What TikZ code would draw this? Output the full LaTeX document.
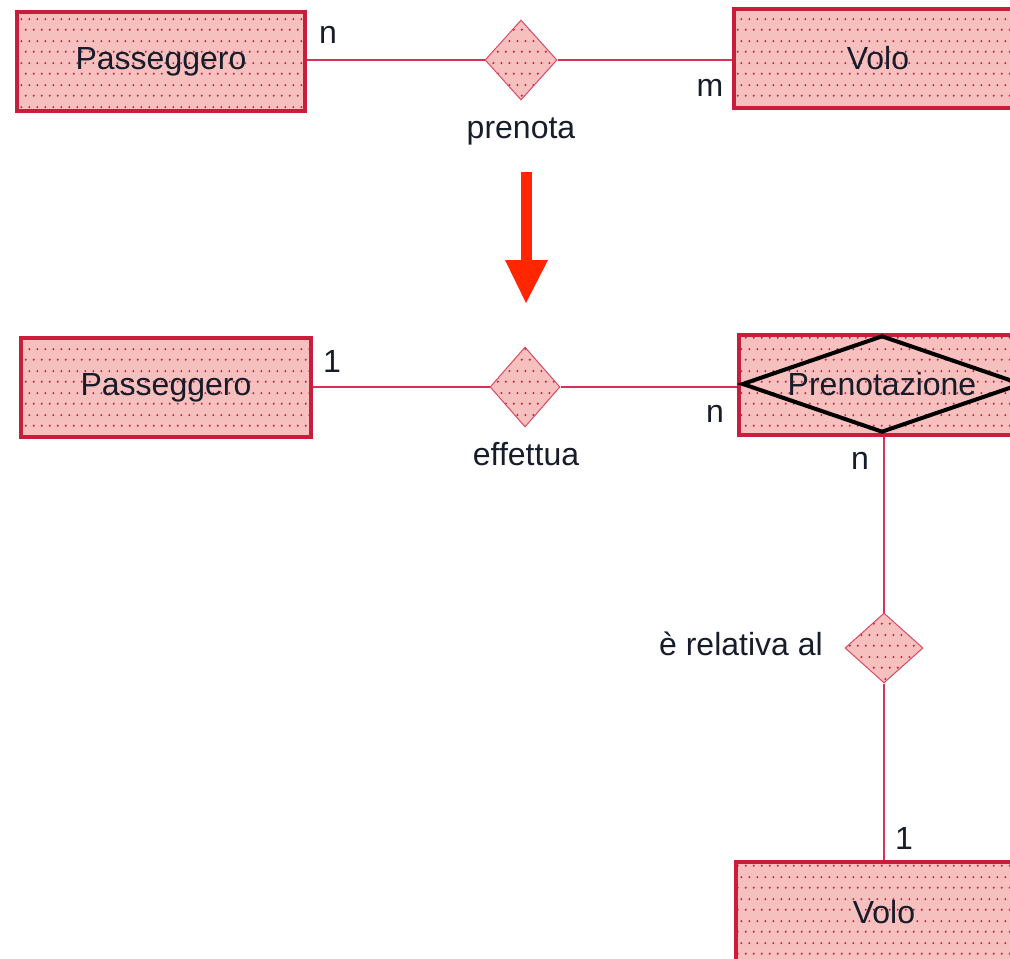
\documentclass[tikz,border=0pt]{standalone}
\usepackage{fontspec}
\setmainfont{Liberation Sans}
\usetikzlibrary{shapes.geometric,patterns.meta}
\definecolor{erpink}{RGB}{246,192,190}
\definecolor{erdot}{RGB}{210,36,68}
\definecolor{erborder}{RGB}{200,30,60}
\definecolor{erline}{RGB}{212,52,82}
\definecolor{erdia}{RGB}{218,74,98}
\definecolor{ertext}{RGB}{24,28,42}
\definecolor{arrowred}{RGB}{255,38,0}
\tikzdeclarepattern{
  name=erdots,
  type=uncolored,
  bounding box={(0pt,0pt) and (8pt,22pt)},
  tile size={(8pt,22pt)},
  code={
    \fill (2pt,5.5pt) circle (1.25pt);
    \fill (6pt,16.5pt) circle (1.25pt);
  }
}
\begin{document}
\begin{tikzpicture}[x=1pt,y=-1pt,
  font=\fontsize{32}{38}\selectfont,
  every node/.style={text=ertext},
  dotted fill/.style={preaction={fill=erpink}, pattern=erdots, pattern color=erdot},
  entity/.style={draw=erborder, line width=4pt, rectangle, dotted fill, inner sep=0pt},
  rel/.style={draw=erdia, line width=1pt, diamond, dotted fill, inner sep=0pt},
  conn/.style={draw=erline, line width=1.5pt},
  card/.style={inner sep=0pt},
  lbl/.style={inner sep=0pt}]
\useasboundingbox (0,0) rectangle (1010,959);
\clip (0,0) rectangle (1010,959);

% ---- top: N:M ----
\node[entity, minimum width=288, minimum height=99] (pas1) at (161,61.5) {Passeggero};
\node[entity, minimum width=288, minimum height=99] (volo1) at (878,58.5) {Volo};
\node[rel, minimum width=72, minimum height=80] (r1) at (521,60) {};
\draw[conn] (r1.west) -- (r1.west -| pas1.east);
\draw[conn] (r1.east) -- (r1.east -| volo1.west);
\node[lbl, anchor=base] (r1l) at (521,138) {prenota};
\node[card] (c1) at (328,35) {n};
\node[card] (c2) at (710,88) {m};

% ---- arrow ----
\fill[arrowred] (521,172) rectangle (532,262);
\fill[arrowred] (505,260) -- (548,260) -- (526,303) -- cycle;

% ---- bottom ----
\node[entity, minimum width=290, minimum height=99] (pas2) at (166,387.5) {Passeggero};
\node[entity, minimum width=286, minimum height=100] (pren) at (882,385) {};
\node[diamond, draw=black, line width=4pt, inner sep=0pt, minimum width=280, minimum height=97] (pdia) at (882,384) {};
\node[lbl] (ptxt) at (pdia.center) {Prenotazione};
\node[rel, minimum width=70, minimum height=80] (r2) at (525,387) {};
\draw[conn] (r2.west) -- (r2.west -| pas2.east);
\draw[conn] (r2.east) -- (r2.east -| pren.west);
\node[lbl, anchor=base] (r2l) at (526,465) {effettua};
\node[card] (c3) at (332,361) {1};
\node[card] (c4) at (715,414) {n};

\node[rel, minimum width=78, minimum height=70] (r3) at (884,648) {};
\node[entity, minimum width=296, minimum height=100] (volo2) at (884,912) {Volo};
\draw[conn] (r3.north) -- (r3.north |- pren.south);
\draw[conn] (r3.south) -- (r3.south |- volo2.north);
\node[lbl, anchor=base east] (r3l) at (823,655) {è relativa al};
\node[card] (c5) at (860,461) {n};
\node[card] (c6) at (904,838) {1};
\end{tikzpicture}
\end{document}
